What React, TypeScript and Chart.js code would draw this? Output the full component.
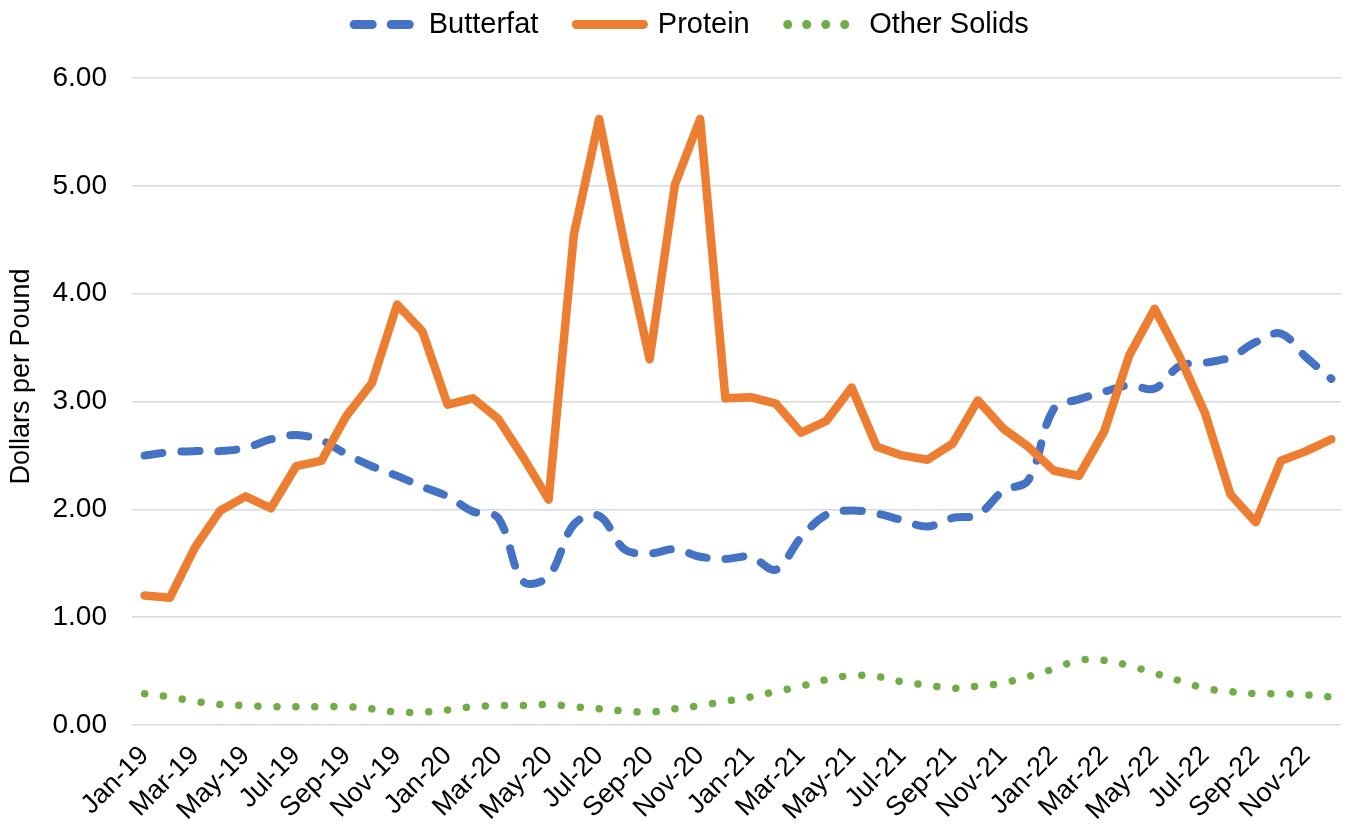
import { useEffect, useRef } from 'react';
import { Chart, registerables } from 'chart.js';

Chart.register(...registerables);

const months = [
  'Jan-19', 'Feb-19', 'Mar-19', 'Apr-19', 'May-19', 'Jun-19', 'Jul-19', 'Aug-19', 'Sep-19', 'Oct-19', 'Nov-19', 'Dec-19',
  'Jan-20', 'Feb-20', 'Mar-20', 'Apr-20', 'May-20', 'Jun-20', 'Jul-20', 'Aug-20', 'Sep-20', 'Oct-20', 'Nov-20', 'Dec-20',
  'Jan-21', 'Feb-21', 'Mar-21', 'Apr-21', 'May-21', 'Jun-21', 'Jul-21', 'Aug-21', 'Sep-21', 'Oct-21', 'Nov-21', 'Dec-21',
  'Jan-22', 'Feb-22', 'Mar-22', 'Apr-22', 'May-22', 'Jun-22', 'Jul-22', 'Aug-22', 'Sep-22', 'Oct-22', 'Nov-22', 'Dec-22',
];

const butterfat = [
  2.50, 2.53, 2.54, 2.54, 2.57, 2.65, 2.69, 2.64, 2.51, 2.40, 2.31, 2.21,
  2.12, 1.98, 1.92, 1.33, 1.38, 1.86, 1.94, 1.63, 1.59, 1.63, 1.56, 1.54,
  1.56, 1.44, 1.74, 1.95, 1.99, 1.96, 1.90, 1.84, 1.92, 1.95, 2.17, 2.27,
  2.93, 3.02, 3.09, 3.15, 3.12, 3.33, 3.36, 3.41, 3.55, 3.63, 3.41, 3.21,
];

const protein = [
  1.20, 1.18, 1.65, 1.99, 2.12, 2.01, 2.40, 2.45, 2.87, 3.17, 3.90, 3.65,
  2.97, 3.03, 2.84, 2.48, 2.09, 4.55, 5.62, 4.46, 3.39, 5.01, 5.62, 3.03,
  3.04, 2.98, 2.71, 2.82, 3.13, 2.58, 2.50, 2.46, 2.61, 3.01, 2.75, 2.58,
  2.36, 2.31, 2.72, 3.43, 3.86, 3.41, 2.89, 2.14, 1.88, 2.45, 2.54, 2.65,
];

const otherSolids = [
  0.29, 0.26, 0.22, 0.19, 0.18, 0.17, 0.17, 0.17, 0.17, 0.15, 0.12, 0.12,
  0.14, 0.17, 0.18, 0.18, 0.19, 0.17, 0.15, 0.13, 0.12, 0.15, 0.18, 0.22,
  0.26, 0.31, 0.36, 0.42, 0.46, 0.45, 0.40, 0.37, 0.34, 0.36, 0.39, 0.45,
  0.52, 0.60, 0.60, 0.55, 0.48, 0.41, 0.34, 0.31, 0.29, 0.29, 0.28, 0.26,
];

const FONT = "'Liberation Sans', Arial, sans-serif";

export default function App() {
  const ref = useRef<HTMLCanvasElement>(null);

  useEffect(() => {
    const layoutTweaks = {
      id: 'layoutTweaks',
      beforeLayout(chart: any) {
        const lg = chart.legend;
        if (lg && !lg.__patched) {
          const orig = lg.fit;
          lg.fit = function () {
            orig.call(this);
            this.height += 29;
          };
          lg.__patched = true;
        }
      },
      afterLayout(chart: any) {
        const ys = chart.scales && chart.scales.y;
        if (ys && !ys.__titlePatched) {
          const origTitle = ys.drawTitle;
          ys.drawTitle = function () {
            const t = this.top;
            const b = this.bottom;
            this.top = t - 50;
            origTitle.call(this);
            this.top = t;
            this.bottom = b;
          };
          ys.__titlePatched = true;
        }
      },
    };

    const chart = new Chart(ref.current as HTMLCanvasElement, {
      type: 'line',
      data: {
        labels: months,
        datasets: [
          {
            label: 'Butterfat',
            data: butterfat,
            borderColor: '#4472C4',
            backgroundColor: '#4472C4',
            borderWidth: 8,
            borderDash: [18, 19],
            borderCapStyle: 'round',
            borderJoinStyle: 'round',
            tension: 0.35,
            pointRadius: 0,
            order: 3,
          },
          {
            label: 'Protein',
            data: protein,
            borderColor: '#ED7D31',
            backgroundColor: '#ED7D31',
            borderWidth: 8.5,
            borderCapStyle: 'round',
            borderJoinStyle: 'round',
            tension: 0,
            pointRadius: 0,
            order: 2,
          },
          {
            label: 'Other Solids',
            data: otherSolids,
            borderColor: '#70AD47',
            backgroundColor: '#70AD47',
            borderWidth: 7.5,
            borderDash: [0.01, 19],
            borderCapStyle: 'round',
            borderJoinStyle: 'round',
            tension: 0.35,
            pointRadius: 0,
            order: 1,
          },
        ],
      },
      options: {
        responsive: false,
        animation: false,
        layout: { padding: { top: -28, right: 5, bottom: 0, left: 32 } },
        plugins: {
          tooltip: { enabled: false },
          legend: {
            position: 'top',
            labels: {
              usePointStyle: true,
              pointStyle: 'line',
              pointStyleWidth: 67,
              padding: 38,
              color: '#000',
              font: { family: FONT, size: 29 },
              sort: (a: any, b: any) => a.datasetIndex - b.datasetIndex,
              generateLabels: (c: any) => {
                const items = (Chart as any).defaults.plugins.legend.labels.generateLabels(c);
                return items.map((it: any) => {
                  const ds = c.data.datasets[it.datasetIndex];
                  return {
                    ...it,
                    pointStyle: 'line',
                    strokeStyle: ds.borderColor,
                    fillStyle: ds.borderColor,
                    lineWidth: 9,
                    lineCap: 'round',
                    lineDash: ds.borderDash || [],
                    lineDashOffset: it.datasetIndex === 0 ? 30 : 0,
                  };
                });
              },
            },
          },
        },
        scales: {
          x: {
            offset: true,
            grid: { display: false, drawTicks: false },
            border: { display: false },
            afterFit: (s: any) => {
              s.height = 107;
              s.paddingLeft = 0;
              s.paddingRight = 0;
            },
            ticks: {
              autoSkip: false,
              minRotation: 45,
              maxRotation: 45,
              padding: 15,
              color: '#000',
              font: { family: FONT, size: 27 },
              callback: (_v: any, i: number) => (i % 2 === 0 ? months[i] : ''),
            },
          },
          y: {
            min: 0,
            max: 6,
            grid: { color: '#d9d9d9', lineWidth: 1.5, drawTicks: false },
            border: { display: false },
            afterFit: (s: any) => {
              s.width = 100;
            },
            ticks: {
              stepSize: 1,
              padding: 25,
              color: '#000',
              font: { family: FONT, size: 28 },
              callback: (v: any) => Number(v).toFixed(2),
            },
            title: {
              display: true,
              text: 'Dollars per Pound',
              color: '#000',
              font: { family: FONT, size: 27 },
              padding: { top: -27, bottom: 0 },
            },
          },
        },
      },
      plugins: [layoutTweaks],
    });

    return () => chart.destroy();
  }, []);

  return (
    <div style={{ position: 'relative', width: 1349, height: 832, margin: -8 }}>
      <canvas ref={ref} width={1349} height={832} style={{ display: 'block', width: 1349, height: 832 }} />
    </div>
  );
}
